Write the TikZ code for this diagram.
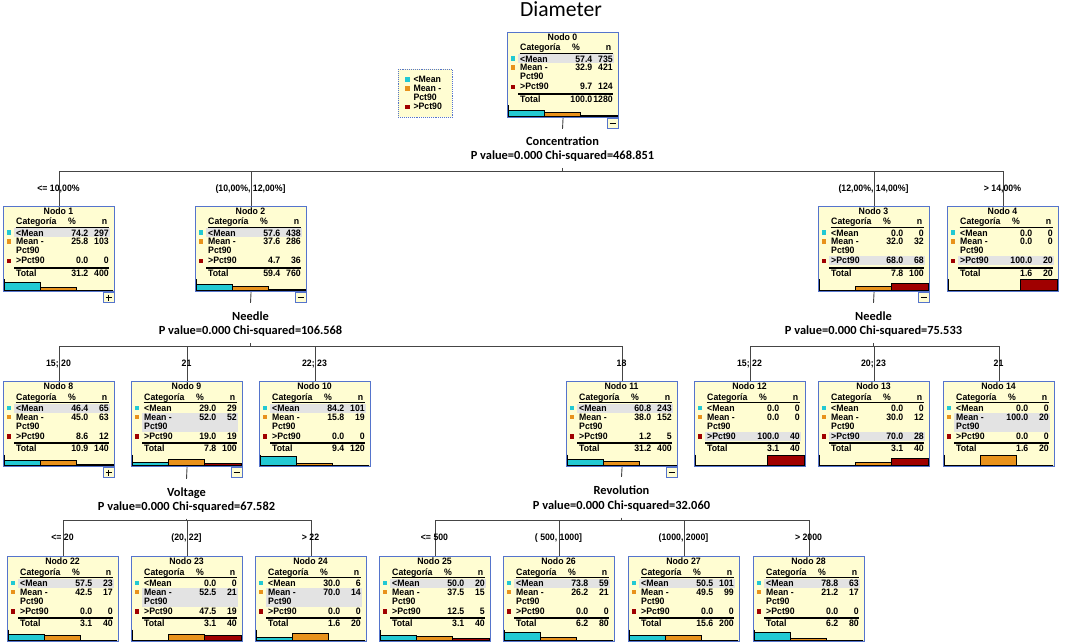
\documentclass[tikz,border=0pt]{standalone}
\usepackage{fontspec}
\setmainfont{Liberation Sans}
\newfontfamily\calib{Carlito}
\newfontfamily\tabfam{Liberation Sans}[FakeStretch=0.94]
\definecolor{boxfill}{HTML}{FFFDD2}
\definecolor{boxline}{HTML}{5574CC}
\definecolor{bandgray}{HTML}{E3E3E3}
\definecolor{cyanbar}{HTML}{22C9D3}
\definecolor{orangebar}{HTML}{E8921C}
\definecolor{redbar}{HTML}{A00000}
\definecolor{connline}{HTML}{454545}
\newcommand\tabfont{\tabfam\fontsize{9.3}{9.5}\selectfont\bfseries}
\newcommand\splitfont{\calib\bfseries\fontsize{12.4}{14}\selectfont}
\begin{document}
\begin{tikzpicture}[x=1pt,y=-1pt,
  treebox/.style={draw=boxline, fill=boxfill, line width=1.1pt, minimum width=111pt, minimum height=85pt, inner sep=0pt, anchor=north west},
  cell/.style={inner sep=0pt, font=\tabfont},
  conn/.style={draw=connline, line width=0.9pt},
  splitA/.style={font=\splitfont, anchor=base, inner xsep=0pt, inner ysep=9pt, text height=8pt, text depth=2.5pt},
  splitB/.style={font=\splitfont, anchor=base, inner xsep=0pt, inner ysep=6pt, text height=8pt, text depth=2.5pt},
  branch/.style={font=\tabfont, inner sep=0pt, anchor=base},
  barline/.style={draw=black, line width=0.6pt},
  btn/.style={draw=boxline, fill=boxfill, line width=0.9pt}]
\fill[white] (0,0) rectangle (1065,644);
\useasboundingbox (0,0) rectangle (1065,644);

% title
\node[font=\calib\fontsize{21.6}{24}\selectfont, anchor=base, inner sep=0pt] (title) at (561,17) {Diameter};

% legend
\node[draw=boxline, densely dotted, fill=boxfill, line width=0.9pt, minimum width=54pt, minimum height=48pt, anchor=north west, inner sep=0pt] (leg) at (398,69) {};
\fill[cyanbar] (405,77.3) rectangle (409.5,81.8);
\fill[orangebar] (405,86.3) rectangle (409.5,90.8);
\fill[redbar] (405,105) rectangle (409.5,109.5);
\node[cell, anchor=base west] (leg1) at (413.3,82.3) {<Mean};
\node[cell, anchor=base west] (leg2) at (413.3,91.7) {Mean -};
\node[cell, anchor=base west] (leg3) at (413.3,100.7) {Pct90};
\node[cell, anchor=base west] (leg4) at (413.3,110) {>Pct90};

% tree nodes
\foreach \qN/\qX/\qY/\qI/\qa/\qna/\qb/\qnb/\qc/\qnc/\qt/\qnt/\qh in {
 n0/507/32/0/57.4/735/32.9/421/9.7/124/100.0/1280/1,
 n1/3/206/1/74.2/297/25.8/103/0.0/0/31.2/400/1,
 n2/195/206/2/57.6/438/37.6/286/4.7/36/59.4/760/1,
 n3/818/206/3/0.0/0/32.0/32/68.0/68/7.8/100/3,
 n4/947/206/4/0.0/0/0.0/0/100.0/20/1.6/20/3,
 n8/3/381/8/46.4/65/45.0/63/8.6/12/10.9/140/1,
 n9/131/381/9/29.0/29/52.0/52/19.0/19/7.8/100/2,
 n10/259/381/10/84.2/101/15.8/19/0.0/0/9.4/120/1,
 n11/566/381/11/60.8/243/38.0/152/1.2/5/31.2/400/1,
 n12/694/381/12/0.0/0/0.0/0/100.0/40/3.1/40/3,
 n13/818/381/13/0.0/0/30.0/12/70.0/28/3.1/40/3,
 n14/943/381/14/0.0/0/100.0/20/0.0/0/1.6/20/2,
 n22/7/556/22/57.5/23/42.5/17/0.0/0/3.1/40/1,
 n23/131/556/23/0.0/0/52.5/21/47.5/19/3.1/40/2,
 n24/255/556/24/30.0/6/70.0/14/0.0/0/1.6/20/2,
 n25/379/556/25/50.0/20/37.5/15/12.5/5/3.1/40/1,
 n26/503/556/26/73.8/59/26.2/21/0.0/0/6.2/80/1,
 n27/628/556/27/50.5/101/49.5/99/0.0/0/15.6/200/1,
 n28/753/556/28/78.8/63/21.2/17/0.0/0/6.2/80/1}
{
 \node[treebox] (\qN) at (\qX,\qY) {};
 \ifcase\qh\or
   \fill[bandgray] (\qX+10.5,\qY+22.5) rectangle (\qX+106.5,\qY+31.5);
 \or
   \fill[bandgray] (\qX+10.5,\qY+31.5) rectangle (\qX+106.5,\qY+50.5);
 \or
   \fill[bandgray] (\qX+10.5,\qY+50.5) rectangle (\qX+106.5,\qY+59.5);
 \fi
 \node[cell, anchor=base] at (\qX+55.5,\qY+8.5) {Nodo \qI};
 \node[cell, anchor=base west] at (\qX+13,\qY+19) {Categoría};
 \node[cell, anchor=base] at (\qX+69,\qY+19) {\%};
 \node[cell, anchor=base east] at (\qX+104.5,\qY+19) {n};
 \draw[black, line width=0.7pt] (\qX+12.5,\qY+21) -- (\qX+106,\qY+21);
 \fill[cyanbar] (\qX+3.5,\qY+24.5) rectangle (\qX+8,\qY+29);
 \fill[orangebar] (\qX+3.5,\qY+33.5) rectangle (\qX+8,\qY+38);
 \fill[redbar] (\qX+3.5,\qY+53) rectangle (\qX+8,\qY+57.5);
 \node[cell, anchor=base west] at (\qX+13,\qY+30.5) {<Mean};
 \node[cell, anchor=base west] at (\qX+13,\qY+39) {Mean -};
 \node[cell, anchor=base west] at (\qX+13,\qY+48) {Pct90};
 \node[cell, anchor=base west] at (\qX+13,\qY+58) {>Pct90};
 \node[cell, anchor=base west] at (\qX+13,\qY+70.5) {Total};
 \node[cell, anchor=base east] at (\qX+85.5,\qY+30.5) {\qa};
 \node[cell, anchor=base east] at (\qX+106,\qY+30.5) {\qna};
 \node[cell, anchor=base east] at (\qX+85.5,\qY+39) {\qb};
 \node[cell, anchor=base east] at (\qX+106,\qY+39) {\qnb};
 \node[cell, anchor=base east] at (\qX+85.5,\qY+58) {\qc};
 \node[cell, anchor=base east] at (\qX+106,\qY+58) {\qnc};
 \node[cell, anchor=base east] at (\qX+85.5,\qY+70.5) {\qt};
 \node[cell, anchor=base east] at (\qX+106,\qY+70.5) {\qnt};
 \draw[black, line width=1.6pt] (\qX+11,\qY+62) -- (\qX+106,\qY+62);
 \pgfmathsetmacro\qha{\qa*0.102}
 \pgfmathsetmacro\qhb{\qb*0.102}
 \pgfmathsetmacro\qhc{\qc*0.102}
 \draw[barline, fill=cyanbar] (\qX+1.5,\qY+84) rectangle (\qX+37,\qY+84-\qha);
 \draw[barline, fill=orangebar] (\qX+37,\qY+84) rectangle (\qX+73.5,\qY+84-\qhb);
 \draw[barline, fill=redbar] (\qX+73.5,\qY+84) rectangle (\qX+110,\qY+84-\qhc);
 \draw[black, line width=0.8pt] (\qX+1.5,\qY+73.5) -- (\qX+1.5,\qY+84) -- (\qX+110,\qY+84);
}

% expand/collapse buttons
\foreach \qX/\qY/\qs in {507/32/0, 3/206/1, 195/206/0, 818/206/0, 3/381/1, 131/381/0, 566/381/0}{
 \draw[btn] (\qX+100,\qY+86.5) rectangle (\qX+111,\qY+96.5);
 \draw[black, line width=1.1pt] (\qX+102.5,\qY+91.5) -- (\qX+108.5,\qY+91.5);
 \ifnum\qs=1 \draw[black, line width=1.1pt] (\qX+105.5,\qY+88.5) -- (\qX+105.5,\qY+94.5);\fi
}

% split: Concentration
\node[splitA] (s0a) at (562.5,146) {Concentration};
\node[splitB] (s0b) at (562.5,159.3) {P value=0.000 Chi-squared=468.851};
\coordinate (b0) at (562.5,171);
\draw[conn] (n0.south) -- (s0a.north);
\draw[conn] (s0b.south) -- (b0);
\foreach \c in {n1,n2,n3,n4} \draw[conn] (\c.north) |- (b0);

% split: Needle (left)
\node[splitA] (s2a) at (250.5,320) {Needle};
\node[splitB] (s2b) at (250.5,334.5) {P value=0.000 Chi-squared=106.568};
\coordinate (b2) at (250.5,346);
\draw[conn] (n2.south) -- (s2a.north);
\draw[conn] (s2b.south) -- (b2);
\foreach \c in {n8,n9,n10,n11} \draw[conn] (\c.north) |- (b2);

% split: Needle (right)
\node[splitA] (s3a) at (873.5,320) {Needle};
\node[splitB] (s3b) at (873.5,334.5) {P value=0.000 Chi-squared=75.533};
\coordinate (b3) at (873.5,346);
\draw[conn] (n3.south) -- (s3a.north);
\draw[conn] (s3b.south) -- (b3);
\foreach \c in {n12,n13,n14} \draw[conn] (\c.north) |- (b3);

% split: Voltage
\node[splitA] (s9a) at (186.5,496) {Voltage};
\node[splitB] (s9b) at (186.5,510) {P value=0.000 Chi-squared=67.582};
\coordinate (b9) at (186.5,520);
\draw[conn] (n9.south) -- (s9a.north);
\draw[conn] (s9b.south) -- (b9);
\foreach \c in {n22,n23,n24} \draw[conn] (\c.north) |- (b9);

% split: Revolution
\node[splitA] (s11a) at (621.5,494) {Revolution};
\node[splitB] (s11b) at (621.5,509) {P value=0.000 Chi-squared=32.060};
\coordinate (b11) at (621.5,520.5);
\draw[conn] (n11.south) -- (s11a.north);
\draw[conn] (s11b.south) -- (b11);
\foreach \c in {n25,n26,n27,n28} \draw[conn] (\c.north) |- (b11);

% branch labels
\node[branch] (l1) at (58.5,191.5) {<= 10,00\%};
\node[branch] (l2) at (250.5,191.5) {(10,00\%, 12,00\%]};
\node[branch] (l3) at (873.5,191.5) {(12,00\%, 14,00\%]};
\node[branch] (l4) at (1002.5,191.5) {> 14,00\%};
\node[branch] (l5) at (58.5,366) {15; 20};
\node[branch] (l6) at (186.5,366) {21};
\node[branch] (l7) at (314.5,366) {22; 23};
\node[branch] (l8) at (621.5,366) {18};
\node[branch] (l9) at (749.5,366) {15; 22};
\node[branch] (l10) at (873.5,366) {20; 23};
\node[branch] (l11) at (998.5,366) {21};
\node[branch] (l12) at (62.5,540.5) {<= 20};
\node[branch] (l13) at (186.5,540.5) {(20, 22]};
\node[branch] (l14) at (310.5,540.5) {> 22};
\node[branch] (l15) at (434.5,540.5) {<= 500};
\node[branch] (l16) at (558.5,540.5) {( 500, 1000]};
\node[branch] (l17) at (683.5,540.5) {(1000, 2000]};
\node[branch] (l18) at (808.5,540.5) {> 2000};
\end{tikzpicture}
\end{document}
